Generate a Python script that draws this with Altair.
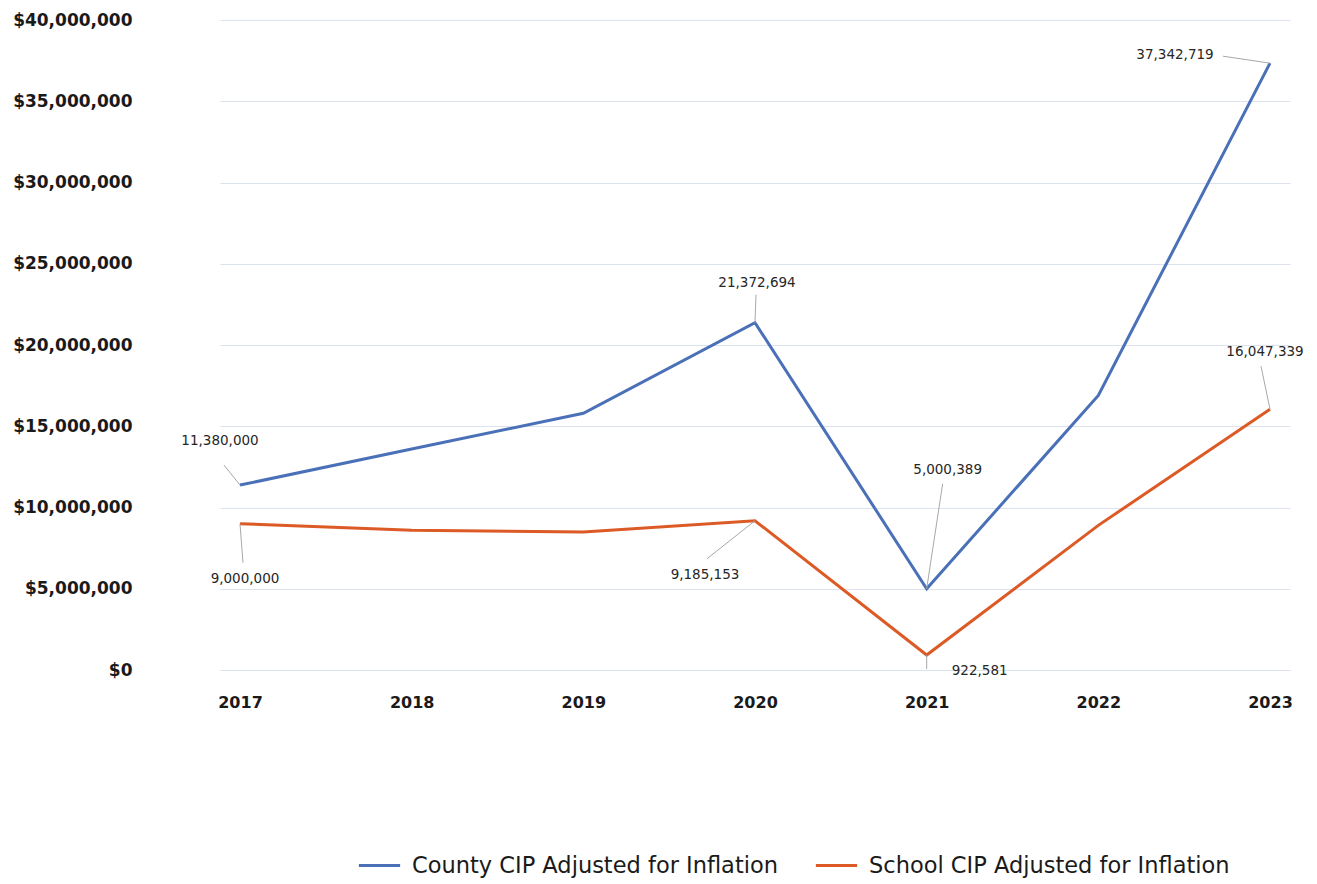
import altair as alt
import pandas as pd

years = ["2017", "2018", "2019", "2020", "2021", "2022", "2023"]
county = [11380000, 13600000, 15800000, 21372694, 5000389, 16900000, 37342719]
school = [9000000, 8600000, 8500000, 9185153, 922581, 8900000, 16047339]
series_names = ["County CIP Adjusted for Inflation", "School CIP Adjusted for Inflation"]
colors = ["#4a70b8", "#dc5a26"]

rows = []
for y, v in zip(years, county):
    rows.append({"year": y, "series": series_names[0], "value": v})
for y, v in zip(years, school):
    rows.append({"year": y, "series": series_names[1], "value": v})
df = pd.DataFrame(rows)

FONT = "DejaVu Sans"

x_enc = alt.X("year:O", scale=alt.Scale(type="point", padding=0.1165),
              axis=alt.Axis(title=None, labelAngle=0, domain=False, ticks=False,
                            labelFont=FONT, labelFontSize=16, labelFontWeight="bold",
                            labelColor="#1a1a1a", labelPadding=24, grid=False))
y_enc = alt.Y("value:Q", scale=alt.Scale(domain=[0, 40000000], nice=False),
              axis=alt.Axis(title=None, values=list(range(0, 40000001, 5000000)),
                            format="$,.0f", domain=False, ticks=False,
                            labelFont=FONT, labelFontSize=17, labelFontWeight="bold",
                            labelColor="#1a1a1a", labelPadding=88,
                            gridColor="#dde2ef", gridWidth=1))

base = alt.Chart(df)

lines = base.mark_line(strokeWidth=3).encode(
    x=x_enc, y=y_enc,
    color=alt.Color("series:N", scale=alt.Scale(domain=series_names, range=colors),
                    legend=alt.Legend(title=None, orient="none", direction="horizontal",
                                      legendX=137, legendY=823,
                                      symbolType="stroke", symbolSize=1700,
                                      symbolStrokeWidth=3, labelFont=FONT,
                                      labelFontSize=22.5, labelColor="#1a1a1a",
                                      labelOffset=10, columnPadding=30,
                                      labelLimit=600)),
)

# (series index, year, text dx, text dy, leader end x offset, leader end y offset)
label_specs = [
    (0, "2017", -20, -44, -16, -20),
    (1, "2017", 5, 55, 3, 39),
    (0, "2020", 2, -40, 1, -28),
    (1, "2020", -50, 54, -48, 38),
    (0, "2021", 21, -119, 16, -105),
    (1, "2021", 53, 16, 0, 14),
    (0, "2023", -95, -8, -47, -7),
    (1, "2023", -5, -57, -9, -43),
]

layers = [lines]
for si, yr, dx, dy, lx, ly in label_specs:
    sub = base.transform_filter(
        (alt.datum.series == series_names[si]) & (alt.datum.year == yr))
    rule = sub.mark_rule(color="#a8a8a8", strokeWidth=1, x2Offset=lx, y2Offset=ly).encode(
        x=alt.X("year:O"), y=alt.Y("value:Q"),
        x2=alt.X2("year:O"), y2=alt.Y2("value:Q"))
    text = sub.mark_text(dx=dx, dy=dy, font=FONT, fontSize=13.5, color="#262626",
                         align="center", baseline="middle").encode(
        x=alt.X("year:O"), y=alt.Y("value:Q"),
        text=alt.Text("value:Q", format=","))
    layers += [rule, text]

chart = alt.layer(*layers).properties(
    width=1070, height=650,
    autosize=alt.AutoSizeParams(type="none"),
    padding={"left": 220, "top": 20, "right": 27, "bottom": 214},
    view=alt.ViewBackground(stroke="transparent", strokeWidth=0),
).configure_view(stroke="transparent", strokeWidth=0).configure(
    background="white", style={"cell": {"stroke": "transparent", "strokeWidth": 0}})

chart.save("out.html", embed_options={"renderer": "svg", "actions": False})
